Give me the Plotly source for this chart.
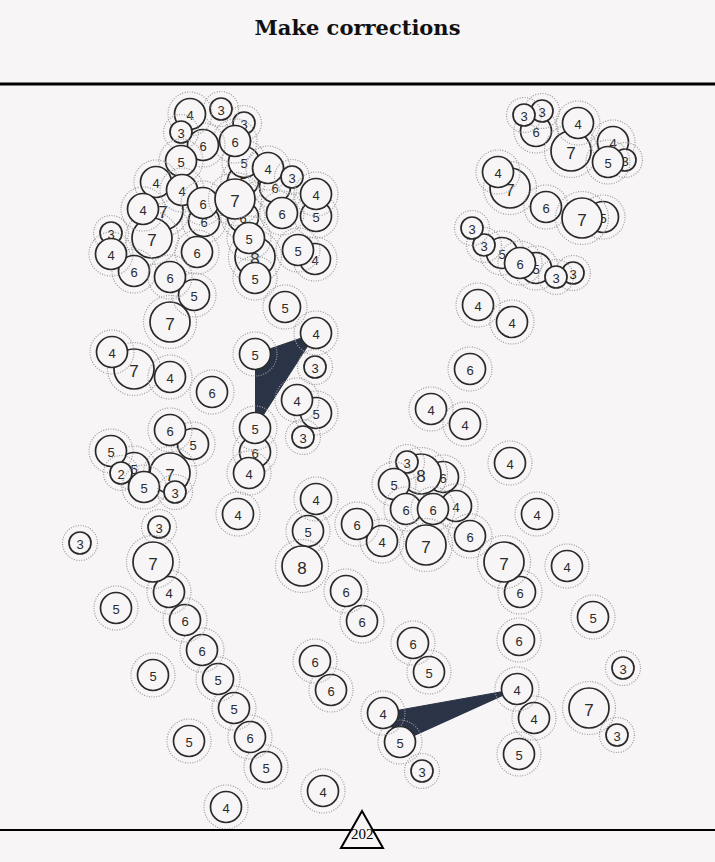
import plotly.graph_objects as go

W, H = 715, 862
BG = "#f7f5f6"
INK = "#2a2a2a"
NAVY = "#2b3447"

title = "Make corrections"
step_label = "202"
step_x = 362

# free nodes, listed in drawing order (later ones sit on top)
node_x = [275, 243, 243, 204, 163, 255, 244, 244, 235, 221, 203, 190, 181, 181, 156, 182, 203, 235, 268, 292,
          316, 316, 282, 152, 143, 134, 111, 111, 197, 249, 255, 315, 298, 170, 194, 170, 285,
          536, 542, 524, 571, 578, 613, 625, 608, 510, 498, 546, 603, 582, 536, 502, 573, 556, 520, 484, 472,
          315, 316, 297, 303, 255, 249, 134, 112, 170, 212, 193, 170, 134, 170, 111, 121, 144, 175, 238, 308,
          316, 159, 80,
          266, 250, 234, 218, 202, 185, 169, 153, 116, 153, 189, 226, 302, 362, 346, 331, 315, 429, 413, 422, 323,
          478, 512, 470, 431, 465, 510, 443, 421, 407, 394, 456, 406, 433, 426, 382, 357, 470, 537, 520, 504,
          567, 593, 519, 623, 534, 519, 589, 617]
node_y = [187, 181, 217, 221, 210, 257, 123, 162, 141, 109, 145, 114, 132, 161, 182, 190, 203, 199, 168, 177,
          216, 194, 213, 238, 209, 271, 233, 254, 252, 238, 278, 259, 250, 322, 295, 277, 307,
          131, 111, 115, 151, 123, 142, 160, 162, 188, 172, 207, 217, 218, 268, 253, 273, 277, 263, 245, 228,
          367, 413, 400, 437, 452, 473, 369, 352, 377, 392, 444, 430, 468, 473, 451, 473, 487, 492, 514, 531,
          499, 527, 543,
          767, 737, 708, 679, 650, 620, 592, 562, 608, 675, 741, 807, 566, 621, 591, 690, 661, 672, 643, 771, 791,
          305, 322, 369, 409, 424, 463, 477, 474, 462, 484, 506, 509, 509, 545, 541, 524, 536, 514, 592, 562,
          566, 617, 640, 668, 718, 754, 708, 735]
node_v = [6, 5, 6, 6, 7, 8, 3, 5, 6, 3, 6, 4, 3, 5, 4, 4, 6, 7, 4, 3,
          5, 4, 6, 7, 4, 6, 3, 4, 6, 5, 5, 4, 5, 7, 5, 6, 5,
          6, 3, 3, 7, 4, 4, 3, 5, 7, 4, 6, 5, 7, 5, 5, 3, 3, 6, 3, 3,
          3, 5, 4, 3, 6, 4, 7, 4, 4, 6, 5, 6, 5, 7, 5, 2, 5, 3, 4, 5,
          4, 3, 3,
          5, 6, 5, 5, 6, 6, 4, 7, 5, 5, 5, 4, 8, 6, 6, 6, 6, 5, 6, 3, 4,
          4, 4, 6, 4, 4, 4, 6, 8, 3, 5, 4, 6, 6, 7, 4, 6, 6, 4, 6, 7,
          4, 5, 6, 3, 4, 5, 7, 3]

# nodes joined by the dark triangles
link_x = [255, 316, 255, 400, 383, 517]
link_y = [354, 333, 428, 742, 713, 689]
link_v = [5, 4, 5, 5, 4, 4]
triangles = [[0, 1, 2], [4, 5, 3]]


def radius(v):
    # axis units are 1:1 with pixels here
    if v <= 3:
        return 11
    if v <= 6:
        return 15.5
    return 20


fig = go.Figure()

for tri in triangles:
    fig.add_trace(go.Scatter(
        x=[link_x[i] for i in tri], y=[link_y[i] for i in tri],
        mode="lines", fill="toself", fillcolor=NAVY,
        line=dict(color=NAVY, width=1), hoverinfo="skip", showlegend=False))

shapes = []
xs = node_x + link_x
ys = node_y + link_y
vs = node_v + link_v
for x, y, v in zip(xs, ys, vs):
    r = radius(v)
    ring = r + 6.5
    shapes.append(dict(type="circle", xref="x", yref="y",
                       x0=x - ring, x1=x + ring, y0=y - ring, y1=y + ring,
                       line=dict(color="#9c9c9c", width=1.2, dash="1px,1.5px"), layer="above"))
    shapes.append(dict(type="circle", xref="x", yref="y",
                       x0=x - r, x1=x + r, y0=y - r, y1=y + r,
                       line=dict(color=INK, width=1.7), fillcolor=BG, layer="above",
                       label=dict(text=str(v), textposition="middle center",
                                  font=dict(family="Liberation Sans, Arial, sans-serif",
                                            size=17 if v >= 7 else 13, color=INK))))

# frame lines and the step marker
shapes.append(dict(type="line", xref="paper", yref="y", x0=0, x1=1, y0=84, y1=84,
                   line=dict(color="black", width=3), layer="above"))
shapes.append(dict(type="line", xref="paper", yref="y", x0=0, x1=1, y0=830, y1=830,
                   line=dict(color="black", width=2), layer="above"))
shapes.append(dict(type="path", xref="x", yref="y", xsizemode="pixel", ysizemode="pixel",
                   xanchor=step_x, yanchor=830, path="M -21 -18 L 0 19 L 21 -18 Z",
                   fillcolor=BG, line=dict(color="black", width=2), layer="above"))

fig.update_layout(
    width=W, height=H, autosize=False,
    margin=dict(l=0, r=0, t=0, b=0),
    paper_bgcolor=BG, plot_bgcolor=BG,
    showlegend=False,
    title=dict(text=title, x=0.5, xanchor="center", y=1 - 28 / H, yanchor="middle", yref="container",
               font=dict(family="DejaVu Serif, serif", size=21, color="#111111", weight="bold")),
    xaxis=dict(range=[0, W], visible=False, fixedrange=True),
    yaxis=dict(range=[H, 0], visible=False, fixedrange=True),
    shapes=shapes,
    annotations=[dict(x=step_x, y=834, xref="x", yref="y", text=step_label, showarrow=False,
                      font=dict(family="Liberation Serif, DejaVu Serif, serif", size=15, color="black"))],
)

fig.write_html("out.html", config={"displayModeBar": False},
               post_script="document.body.style.margin = '0';")
